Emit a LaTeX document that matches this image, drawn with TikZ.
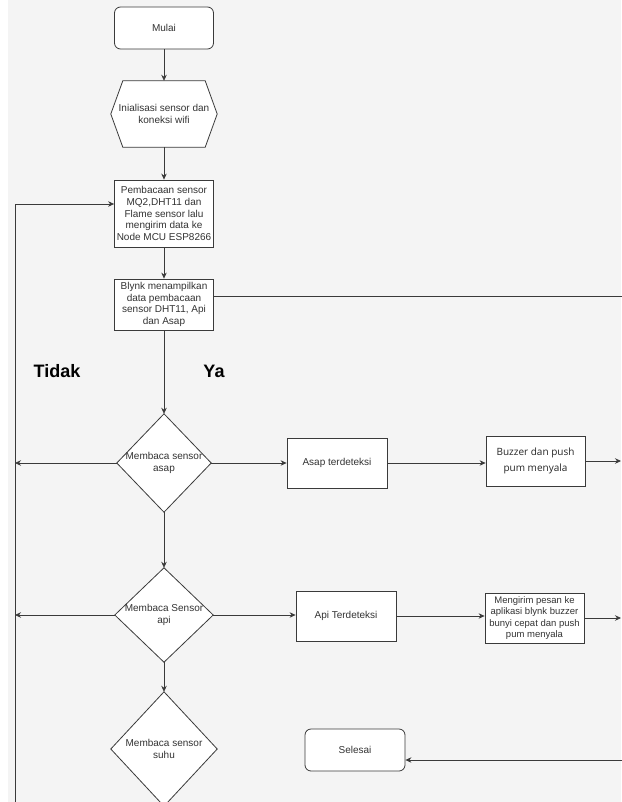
\documentclass[tikz,border=0pt]{standalone}
\usepackage{fontspec}
\setmainfont{Liberation Sans}
\newfontfamily\opensans{Open Sans}
\usetikzlibrary{arrows.meta,backgrounds}
\definecolor{bggray}{HTML}{F4F4F4}
\definecolor{ln}{HTML}{3A3A3A}
\definecolor{tx}{HTML}{333333}
\begin{document}
\begin{tikzpicture}[x=1pt,y=-1pt,
  txt/.style={text=tx, font=\fontsize{10}{11.7}\selectfont, align=center, inner sep=0pt},
  procbox/.style={txt, draw=ln, fill=white, line width=0.8pt},
  shp/.style={draw=ln, fill=white, line width=0.8pt},
  conn/.style={draw=ln, line width=0.8pt},
  arr/.style={conn, -{Stealth[length=6pt,width=5.5pt]}},
  lab/.style={font=\fontsize{18}{20}\selectfont\bfseries, text=black, inner sep=0pt}]
\useasboundingbox (0,0) rectangle (621,802);
\begin{pgfonlayer}{background}
  \fill[white] (0,0) rectangle (621,802);
  \fill[bggray] (8,0) rectangle (621,802);
\end{pgfonlayer}

% nodes
\node[procbox, rounded corners=6pt, minimum width=99pt, minimum height=42pt] (mulai) at (164,28) {Mulai};
\node[txt, minimum width=106pt, minimum height=66pt] (init) at (164,114) {Inialisasi sensor dan\\koneksi wifi};
\node[procbox, minimum width=99pt, minimum height=67pt] (pemb) at (164,213.5) {Pembacaan sensor\\MQ2,DHT11 dan\\Flame sensor lalu\\mengirim data ke\\Node MCU ESP8266};
\node[procbox, minimum width=99pt, minimum height=51pt] (blynk) at (164,304.5) {Blynk menampilkan\\data pembacaan\\sensor DHT11, Api\\dan Asap};
\node[txt, minimum width=94pt, minimum height=98pt] (d1) at (164,463) {Membaca sensor\\asap};
\node[txt, minimum width=98pt, minimum height=94pt] (d2) at (164,615) {Membaca Sensor\\api};
\node[txt, minimum width=106pt, minimum height=114pt] (d3) at (164,749) {Membaca sensor\\suhu};
\node[procbox, minimum width=100pt, minimum height=50pt] (asap) at (337,463) {Asap terdeteksi};
\node[procbox, minimum width=99pt, minimum height=50pt, font=\opensans\fontsize{10}{15.5}\selectfont, text=black!85] (buzz) at (535.5,461) {Buzzer dan push\\pum menyala};
\node[procbox, minimum width=100pt, minimum height=50pt] (api) at (346,616) {Api Terdeteksi};
\node[procbox, minimum width=99pt, minimum height=50pt, font=\fontsize{9.5}{11.5}\selectfont] (meng) at (534.5,618) {Mengirim pesan ke\\aplikasi blynk buzzer\\bunyi cepat dan push\\pum menyala};
\node[procbox, rounded corners=6pt, minimum width=100pt, minimum height=42pt] (selesai) at (355,750) {Selesai};
\node[lab] (tidak) at (57,371) {Tidak};
\node[lab] (ya) at (214,371) {Ya};

% shapes behind text
\begin{pgfonlayer}{background}
  \draw[shp] ([xshift=12pt]init.north west) -- ([xshift=-12pt]init.north east) -- (init.east)
     -- ([xshift=-12pt]init.south east) -- ([xshift=12pt]init.south west) -- (init.west) -- cycle;
  \draw[shp] (d1.north) -- (d1.east) -- (d1.south) -- (d1.west) -- cycle;
  \draw[shp] (d2.north) -- (d2.east) -- (d2.south) -- (d2.west) -- cycle;
  \draw[shp] (d3.north) -- (d3.east) -- (d3.south) -- (d3.west) -- cycle;
\end{pgfonlayer}

% free ends
\coordinate (lbot) at (15,803);
\coordinate (l1) at (15,463);
\coordinate (l2) at (15,615);
\coordinate (r0) at (622,296);
\coordinate (r1) at (621,461);
\coordinate (r2) at (621,618);
\coordinate (r3) at (622,760);

% connectors
\draw[arr] (mulai.south) -- (init.north);
\draw[arr] (init.south) -- (pemb.north);
\draw[arr] (pemb.south) -- (blynk.north);
\draw[arr] (blynk.south) -- (d1.north);
\draw[arr] (d1.south) -- (d2.north);
\draw[arr] (d2.south) -- (d3.north);
\draw[arr] (lbot) |- ([yshift=9.5pt]pemb.west);
\draw[arr] (d1.west) -- (l1);
\draw[arr] (d2.west) -- (l2);
\draw[conn] ([yshift=8.5pt]blynk.east) -- (r0);
\draw[arr] (d1.east) -- (d1.east -| asap.west);
\draw[arr] (asap.east) -- (asap.east -| buzz.west);
\draw[arr] (buzz.east) -- (r1);
\draw[arr] (d2.east) -- (d2.east -| api.west);
\draw[arr] (api.east) -- (api.east -| meng.west);
\draw[arr] (meng.east) -- (r2);
\draw[arr] (r3) -- ([yshift=-10pt]selesai.east);
\end{tikzpicture}
\end{document}
